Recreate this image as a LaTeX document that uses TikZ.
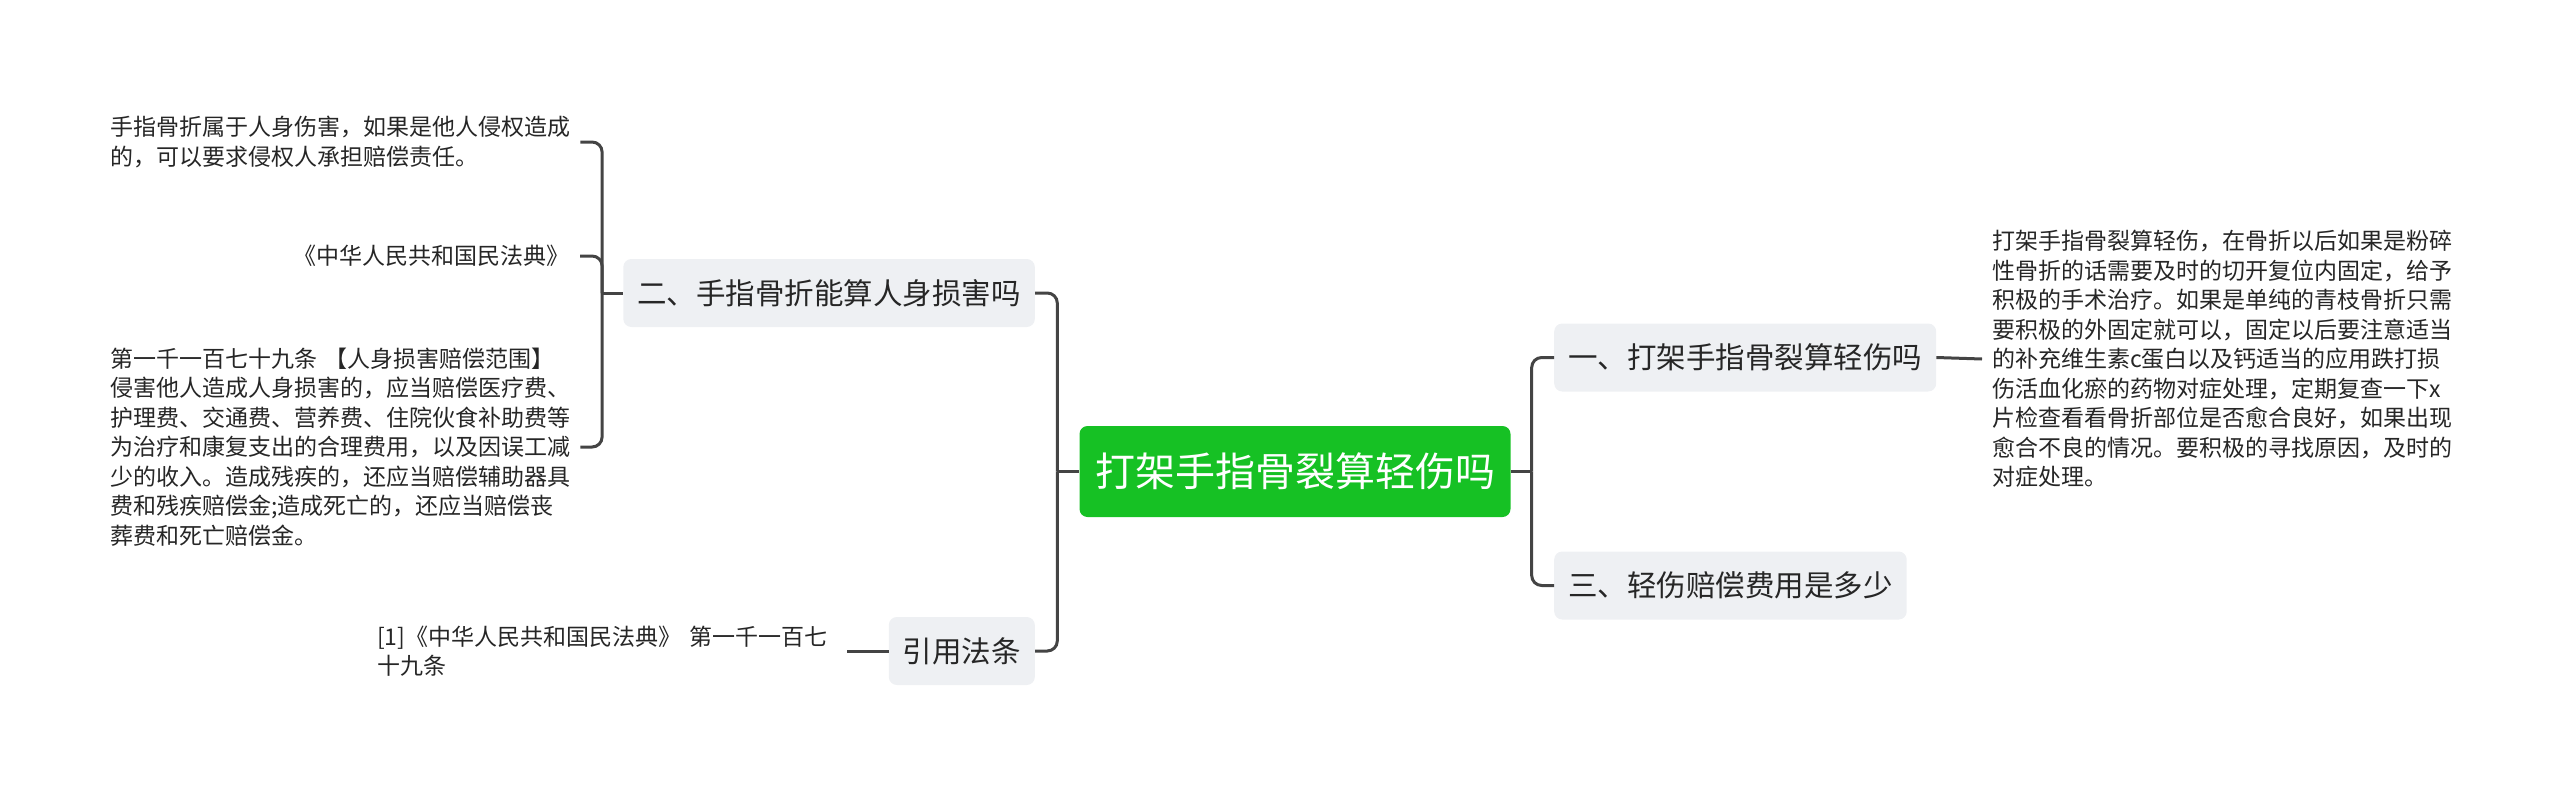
\documentclass[tikz,border=0pt]{standalone}
\usepackage{fontspec}
\setmainfont{Noto Sans CJK SC}
\usetikzlibrary{calc}

\definecolor{maingreen}{RGB}{22,193,36}
\definecolor{topicgray}{RGB}{238,240,243}
\definecolor{linegray}{RGB}{68,68,68}
\definecolor{textgray}{RGB}{38,38,38}

\tikzset{
  mainbox/.style={fill=maingreen,text=white,rounded corners=8pt,minimum height=91pt,minimum width=431pt,inner xsep=10pt,font=\fontsize{40pt}{48pt}\selectfont},
  topicbox/.style={fill=topicgray,text=textgray,rounded corners=8pt,minimum height=68pt,inner xsep=14pt,font=\fontsize{29.5pt}{36pt}\selectfont},
  notetext/.style={text=textgray,align=left,text width=460pt,inner xsep=10pt,inner ysep=0pt,font=\fontsize{23pt}{29.5pt}\selectfont},
  conn/.style={draw=linegray,line width=3pt,rounded corners=10pt}
}

\begin{document}
\begin{tikzpicture}[x=1pt,y=-1pt]
    \useasboundingbox (0,0) rectangle (2560,790);

    % 中心主题
    \node[mainbox] (root) at (1295,471.5) {打架手指骨裂算轻伤吗};

    % 左侧分支
    \node[topicbox,anchor=east] (q2) at (1035,293) {二、手指骨折能算人身损害吗};
    \node[topicbox,anchor=east] (cite) at (1035,651) {引用法条};

    % 右侧分支
    \node[topicbox,anchor=west] (q1) at (1554,357.5) {一、打架手指骨裂算轻伤吗};
    \node[topicbox,anchor=west] (q3) at (1554,585.5) {三、轻伤赔偿费用是多少};

    % 说明文字
    \node[notetext,anchor=west] (n1) at (100,142) {手指骨折属于人身伤害，如果是他人侵权造成\\的，可以要求侵权人承担赔偿责任。};
    \node[notetext,anchor=east,align=right] (n2) at (580,256) {《中华人民共和国民法典》};
    \node[notetext,anchor=west] (n3) at (100,447) {第一千一百七十九条 【人身损害赔偿范围】\\侵害他人造成人身损害的，应当赔偿医疗费、\\护理费、交通费、营养费、住院伙食补助费等\\为治疗和康复支出的合理费用，以及因误工减\\少的收入。造成残疾的，还应当赔偿辅助器具\\费和残疾赔偿金;造成死亡的，还应当赔偿丧\\葬费和死亡赔偿金。};
    \node[notetext,anchor=west] (ref) at (367,651) {[1]《中华人民共和国民法典》 第一千一百七\\十九条};
    \node[notetext,anchor=west] (ans) at (1982,359) {打架手指骨裂算轻伤，在骨折以后如果是粉碎\\性骨折的话需要及时的切开复位内固定，给予\\积极的手术治疗。如果是单纯的青枝骨折只需\\要积极的外固定就可以，固定以后要注意适当\\的补充维生素c蛋白以及钙适当的应用跌打损\\伤活血化瘀的药物对症处理，定期复查一下x\\片检查看看骨折部位是否愈合良好，如果出现\\愈合不良的情况。要积极的寻找原因，及时的\\对症处理。};

    % 连线
    \coordinate (rootL) at ($(root.west)+(-22,0)$);
    \coordinate (rootR) at ($(root.east)+(21,0)$);
    \coordinate (q2L) at ($(q2.west)+(-21,0)$);

    \draw[conn] (rootL) -- (root.west);
    \draw[conn] (q2.east) -| (rootL);
    \draw[conn] (cite.east) -| (rootL);

    \draw[conn] (root.east) -- (rootR);
    \draw[conn] (q1.west) -| (rootR);
    \draw[conn] (q3.west) -| (rootR);

    \draw[conn] (q2L) -- (q2.west);
    \draw[conn] (n1.east) -| (q2L);
    \draw[conn] (n2.east) -| (q2L);
    \draw[conn] (n3.east) -| (q2L);

    \draw[conn] (ref.east) -- (cite.west);
    \draw[conn] (q1.east) -- (ans.west);
\end{tikzpicture}
\end{document}
